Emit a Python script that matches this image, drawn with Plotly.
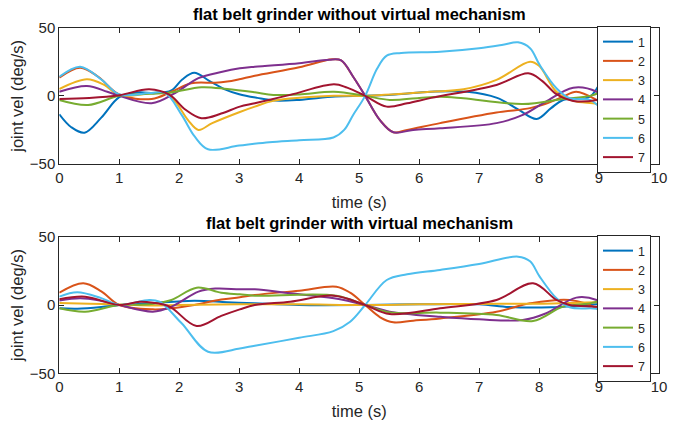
import plotly.graph_objects as go

COLORS = ["#0072BD", "#D95319", "#EDB120", "#7E2F8E", "#77AC30", "#4DBEEE", "#A2142F"]
NAMES = ["1", "2", "3", "4", "5", "6", "7"]
X_TICKS = list(range(0, 11))
Y_TICKS = [-50, 0, 50]
TITLE_TOP = "flat belt grinder without virtual mechanism"
TITLE_BOT = "flat belt grinder with virtual mechanism"
X_LABEL = "time (s)"
Y_LABEL = "joint vel (deg/s)"

# ---- top panel: without virtual mechanism ----
top_t1 = [0, 0.2, 0.42, 0.7, 1.0, 1.3, 1.6, 1.87, 2.05, 2.25, 2.5, 2.75, 3.0, 3.3, 3.6, 4.0, 4.6, 5.1, 5.6, 6.2, 6.8, 7.3, 7.65, 7.96, 8.2, 8.4, 8.85, 9.12, 9.3]
top_v1 = [-13.5, -23, -27, -16, -1, 2.5, 2, 4, 12, 17, 11, 5, 1.2, -1.5, -3.5, -3, -0.5, 0, 1, 3, 3, -1.5, -10, -17, -9, -3, -0.5, 18, 28]
top_t2 = [0, 0.35, 0.65, 1.0, 1.54, 1.87, 2.2, 2.6, 2.8, 3.0, 3.26, 4.0, 4.55, 4.7, 4.9, 5.1, 5.35, 5.57, 5.8, 6.35, 7.29, 7.85, 8.1, 8.4, 8.62, 8.96, 9.15, 9.3]
top_v2 = [13.4, 20.7, 14, 1, -2.3, 3, 9.2, 9.6, 10.5, 12.2, 14.8, 21, 26.8, 26, 14, 0, -18, -26.7, -25, -20, -12.3, -9, -6, -0.6, 3, -3, -9, -13]
top_t3 = [0, 0.46, 0.75, 1.0, 1.54, 1.75, 1.93, 2.15, 2.32, 2.55, 3.0, 3.26, 3.57, 4.58, 5.1, 6.18, 6.74, 7.29, 7.85, 8.0, 8.29, 8.57, 8.96, 9.15, 9.3]
top_v3 = [5, 12.2, 8, 0.5, 2, 2.5, -4, -18, -25, -20, -12, -7.9, -3.7, 0, 0, 3, 4.8, 11.7, 25, 22, 3, -3.7, -6, -9, -11]
top_t4 = [0, 0.46, 0.8, 1.0, 1.54, 1.93, 2.32, 2.7, 3.01, 3.26, 4.0, 4.5, 4.7, 4.9, 5.1, 5.35, 5.57, 5.9, 6.35, 7.29, 7.73, 8.07, 8.57, 8.96, 9.12, 9.3]
top_v4 = [3, 7.3, 3, 0, -5.4, 2, 13, 17.5, 20.2, 21.4, 24, 26.5, 26, 14, 0, -18, -26.7, -25, -23.8, -20, -14, -5.4, 6, 3, -3, -6]
top_t5 = [0, 0.48, 1.0, 1.5, 1.87, 2.37, 2.8, 3.26, 3.57, 4.0, 4.58, 5.1, 5.51, 6.0, 6.35, 6.74, 7.73, 8.4, 8.85, 9.12, 9.3]
top_v5 = [-3, -6.7, 0, 1.5, 2.5, 6.3, 5, 2.6, 0.7, 1, 3, 0, -3, -1.5, -0.6, -1.8, -6, -2.3, 0, 4.3, 7]
top_t6 = [0, 0.35, 0.7, 1.0, 1.5, 1.77, 2.04, 2.26, 2.48, 3.0, 3.5, 4.0, 4.57, 4.75, 4.9, 5.1, 5.3, 5.46, 5.7, 6.35, 7.0, 7.4, 7.65, 7.85, 8.01, 8.29, 8.51, 8.85, 9.12, 9.3]
top_v6 = [14, 21.4, 12, 1, 2, 2, -14, -30, -39.2, -36.5, -34, -32.5, -30.6, -25, -14, 0, 20, 29.5, 31.5, 32.4, 35, 37.5, 39.3, 35, 22.7, 5.6, -1.8, -3, -12.8, -18]
top_t7 = [0, 0.5, 1.0, 1.5, 1.84, 2.1, 2.37, 2.7, 3.01, 3.26, 3.85, 4.58, 4.8, 5.1, 5.46, 5.8, 6.2, 7.29, 7.82, 8.05, 8.29, 8.57, 8.96, 9.12, 9.3]
top_v7 = [-2.3, -1.5, 0.5, 4.8, 0.7, -10, -16.4, -13, -7.9, -5.4, 0.7, 8.5, 6, 0, -7.9, -5.5, -1.5, 8, 16.6, 11, 1.2, -3.7, -3, -0.6, 1]

# ---- bottom panel: with virtual mechanism ----
bot_t1 = [0, 0.3, 0.7, 1.0, 1.5, 2.25, 2.8, 3.26, 4.0, 5.1, 6.0, 7.0, 7.5, 8.2, 8.4, 8.8, 9.12, 9.3]
bot_v1 = [-2.4, -2.7, -1.5, 0, 1.2, 3.2, 2, 1.2, 0, 0, 0.5, 0.5, -1.5, -1.7, -1.2, 0, 1.2, 2]
bot_t2 = [0, 0.4, 0.7, 1.0, 1.56, 1.87, 2.25, 2.7, 3.01, 3.26, 4.0, 4.62, 4.85, 5.1, 5.35, 5.57, 5.9, 6.35, 7.29, 7.85, 8.51, 8.96, 9.12, 9.3]
bot_v2 = [9, 15.9, 10, 0, -3.2, -2.4, 0, 4, 5.6, 7.3, 10.5, 13.4, 9, 0, -9, -12.7, -11.5, -9.8, -4.9, 1.2, 3.7, -2.4, -8.6, -12]
bot_t3 = [0, 0.5, 1.0, 1.5, 2.0, 3.0, 4.0, 5.1, 6.0, 7.0, 8.0, 8.5, 9.0, 9.3]
bot_v3 = [1.5, 1, 0.3, -0.3, 0, 0.5, 0.5, 0, 0.5, 0.8, 1, 1.5, 2, 1.5]
bot_t4 = [0, 0.35, 0.7, 1.0, 1.56, 1.87, 2.32, 2.6, 3.01, 3.26, 3.85, 4.58, 5.1, 5.51, 6.35, 7.0, 7.73, 8.12, 8.62, 8.96, 9.12, 9.3]
bot_v4 = [3.2, 4.9, 3, 0, -4.9, -1.2, 9.8, 12, 11.5, 11.5, 8.6, 4.9, 0, -4.9, -8.6, -10.5, -11, -6, 5.4, 3.7, -1, -3]
bot_t5 = [0, 0.43, 1.0, 1.5, 1.87, 2.29, 2.7, 3.01, 3.26, 4.62, 5.1, 5.51, 6.35, 7.29, 7.9, 8.4, 8.85, 9.12, 9.3]
bot_v5 = [-2.4, -4.9, 0, 0.5, 3.7, 12.7, 9, 7.8, 6.8, 6.8, 0, -5.4, -5.6, -7.3, -11.7, -1.2, 1.2, 4.2, 6]
bot_t6 = [0, 0.3, 0.7, 1.0, 1.5, 1.67, 2.04, 2.48, 3.01, 3.26, 4.0, 4.57, 4.85, 5.1, 5.46, 5.8, 6.35, 7.0, 7.65, 7.85, 8.01, 8.29, 8.51, 8.96, 9.12, 9.3]
bot_v6 = [6.1, 9.3, 5, 0, 3.7, 2.4, -13.4, -34.2, -31.8, -29.8, -24, -19.1, -12.2, 0, 18.3, 22.5, 25.7, 30, 35.4, 32, 20.8, 4.9, -1.7, -2.7, -4.9, -7]
bot_t7 = [0, 0.43, 1.0, 1.34, 1.56, 1.84, 2.29, 2.7, 3.01, 3.26, 3.85, 4.58, 5.1, 5.51, 6.35, 7.29, 7.9, 8.29, 8.51, 8.96, 9.12, 9.3]
bot_v7 = [4.2, 6.1, 0, 2.4, 1.7, -1.2, -15.4, -8, -3.2, 0, 2.4, 6.8, 0, -6.6, -2.4, 3.7, 15.9, 3.7, 0, -1.2, -2.4, -3]

top_series = [(top_t1, top_v1), (top_t2, top_v2), (top_t3, top_v3), (top_t4, top_v4),
              (top_t5, top_v5), (top_t6, top_v6), (top_t7, top_v7)]
bot_series = [(bot_t1, bot_v1), (bot_t2, bot_v2), (bot_t3, bot_v3), (bot_t4, bot_v4),
              (bot_t5, bot_v5), (bot_t6, bot_v6), (bot_t7, bot_v7)]

W, H = 679, 421
FONT = "Liberation Sans, Arial, Helvetica, sans-serif"
AX = "#262626"

def px_x(p):
    return p / W

def px_y(p):
    return 1 - p / H

fig = go.Figure()
for i, (t, v) in enumerate(top_series):
    fig.add_trace(go.Scatter(x=t, y=v, mode="lines", name=NAMES[i],
                             line=dict(color=COLORS[i], width=2, shape="spline", smoothing=1.0),
                             xaxis="x", yaxis="y", legend="legend"))
for i, (t, v) in enumerate(bot_series):
    fig.add_trace(go.Scatter(x=t, y=v, mode="lines", name=NAMES[i],
                             line=dict(color=COLORS[i], width=2, shape="spline", smoothing=1.0),
                             xaxis="x2", yaxis="y2", legend="legend2"))

xdom = [px_x(59.3), px_x(659)]
axis_common = dict(showline=True, linecolor=AX, linewidth=1, mirror="ticks",
                   ticks="inside", ticklen=5, tickcolor=AX, tickwidth=1,
                   showgrid=False, zeroline=False, automargin=False,
                   tickfont=dict(family=FONT, size=15, color=AX))

xa = dict(axis_common, range=[0, 10], tickvals=X_TICKS, domain=xdom,
          title=dict(text=X_LABEL, font=dict(family=FONT, size=16.5, color=AX), standoff=11))
ya = dict(axis_common, range=[-50, 50], tickvals=Y_TICKS,
          title=dict(text=Y_LABEL, font=dict(family=FONT, size=16.5, color=AX), standoff=2))

legend_common = dict(bgcolor="white", bordercolor=AX, borderwidth=1,
                     font=dict(family=FONT, size=12.5, color=AX),
                     xanchor="right", yanchor="middle", itemwidth=30,
                     tracegroupgap=0)

fig.update_layout(
    template="none",
    width=W, height=H, margin=dict(l=0, r=0, t=0, b=0, autoexpand=False),
    paper_bgcolor="white", plot_bgcolor="white",
    xaxis=dict(xa, anchor="y"),
    yaxis=dict(ya, domain=[px_y(164), px_y(27.7)], anchor="x"),
    xaxis2=dict(xa, anchor="y2"),
    yaxis2=dict(ya, domain=[px_y(373.3), px_y(236.7)], anchor="x2"),
    legend=dict(legend_common, x=px_x(651), y=px_y(99.5)),
    legend2=dict(legend_common, x=px_x(651), y=px_y(308.5)),
    annotations=[
        dict(text="<b>" + TITLE_TOP + "</b>", x=px_x(359), y=px_y(14), xref="paper", yref="paper",
             showarrow=False, xanchor="center", yanchor="middle",
             font=dict(family=FONT, size=16.5, color="black")),
        dict(text="<b>" + TITLE_BOT + "</b>", x=px_x(359), y=px_y(223), xref="paper", yref="paper",
             showarrow=False, xanchor="center", yanchor="middle",
             font=dict(family=FONT, size=16.5, color="black")),
    ],
)

fig.write_html("out.html")
